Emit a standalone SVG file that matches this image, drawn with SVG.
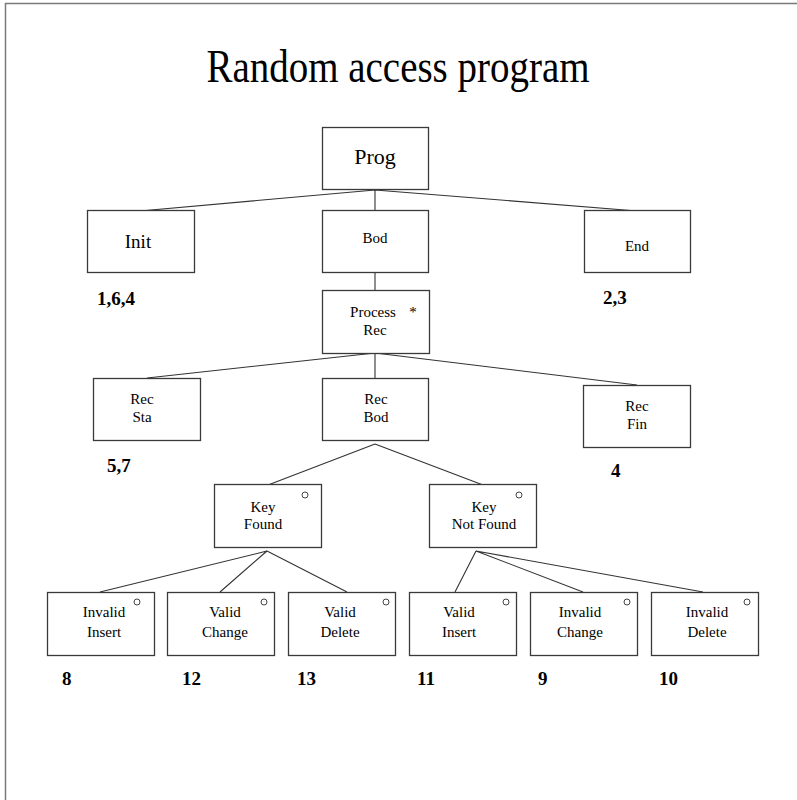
<svg xmlns="http://www.w3.org/2000/svg" width="797" height="800" viewBox="0 0 797 800">
  <style>
    .box { fill: #ffffff; stroke: #3a3a3a; stroke-width: 1.3; }
    .edge { stroke: #333333; stroke-width: 1.1; fill: none; }
    .lbl { font-family: "Liberation Serif", "Times New Roman", serif; fill: #000000; text-anchor: middle; }
    .num { font-family: "Liberation Serif", "Times New Roman", serif; font-weight: bold; font-size: 19px; fill: #000000; }
    .opt { fill: none; stroke: #444444; stroke-width: 1; }
  </style>
  <rect x="0" y="0" width="797" height="800" fill="#ffffff"/>
  <!-- frame: top and left rule -->
  <path d="M5.5 800 V3.5 H797" fill="none" stroke="#7a7a7a" stroke-width="1.5"/>

  <text class="lbl" x="398" y="82" font-size="46" textLength="383" lengthAdjust="spacingAndGlyphs">Random access program</text>

  <g id="connectors">
    <path class="edge" d="M375 190 L140 211 M375 190 L637 211 M375 190 V211"/>
    <path class="edge" d="M375 272 V290"/>
    <path class="edge" d="M375 353 L147 378 M375 353 V378 M375 353 L637 385"/>
    <path class="edge" d="M375 444 L268 485 M375 444 L483 485"/>
    <path class="edge" d="M267 551 L100 592 M267 551 L220 592 M267 551 L347 592"/>
    <path class="edge" d="M476 551 L455 592 M476 551 L583 592 M476 551 L703 592"/>
  </g>

  <g id="prog">
    <rect class="box" x="322.5" y="127.5" width="106" height="62"/>
    <text class="lbl" x="375" y="164" font-size="22">Prog</text>
  </g>
  <g id="init">
    <rect class="box" x="87.5" y="210.5" width="107" height="62"/>
    <text class="lbl" x="138" y="248" font-size="19">Init</text>
    <text class="num" x="97" y="305">1,6,4</text>
  </g>
  <g id="bod">
    <rect class="box" x="322.5" y="210.5" width="106" height="62"/>
    <text class="lbl" x="375" y="243" font-size="15">Bod</text>
  </g>
  <g id="end">
    <rect class="box" x="584.5" y="210.5" width="106" height="62"/>
    <text class="lbl" x="637" y="251" font-size="15">End</text>
    <text class="num" x="603" y="304">2,3</text>
  </g>
  <g id="process-rec">
    <rect class="box" x="322.5" y="290.5" width="107" height="63"/>
    <text class="lbl" x="373" y="317" font-size="15">Process</text>
    <text class="lbl" x="413" y="317" font-size="15">*</text>
    <text class="lbl" x="375" y="335" font-size="15">Rec</text>
  </g>
  <g id="rec-sta">
    <rect class="box" x="93.5" y="378.5" width="107" height="62"/>
    <text class="lbl" x="142" y="404" font-size="15">Rec</text>
    <text class="lbl" x="142" y="422" font-size="15">Sta</text>
    <text class="num" x="107" y="472">5,7</text>
  </g>
  <g id="rec-bod">
    <rect class="box" x="322.5" y="378.5" width="106" height="62"/>
    <text class="lbl" x="376" y="404" font-size="15">Rec</text>
    <text class="lbl" x="376" y="422" font-size="15">Bod</text>
  </g>
  <g id="rec-fin">
    <rect class="box" x="583.5" y="385.5" width="107" height="62"/>
    <text class="lbl" x="637" y="411" font-size="15">Rec</text>
    <text class="lbl" x="637" y="429" font-size="15">Fin</text>
    <text class="num" x="611" y="477">4</text>
  </g>
  <g id="key-found">
    <rect class="box" x="214.5" y="484.5" width="107" height="63"/>
    <circle class="opt" cx="305" cy="495" r="3"/>
    <text class="lbl" x="263" y="512" font-size="15">Key</text>
    <text class="lbl" x="263" y="529" font-size="15">Found</text>
  </g>
  <g id="key-not-found">
    <rect class="box" x="429.5" y="484.5" width="107" height="63"/>
    <circle class="opt" cx="519" cy="495" r="3"/>
    <text class="lbl" x="484" y="512" font-size="15">Key</text>
    <text class="lbl" x="484" y="529" font-size="15">Not Found</text>
  </g>
  <g id="invalid-insert">
    <rect class="box" x="47.5" y="592.5" width="107" height="63"/>
    <circle class="opt" cx="137" cy="602" r="3"/>
    <text class="lbl" x="104" y="617" font-size="15">Invalid</text>
    <text class="lbl" x="104" y="637" font-size="15">Insert</text>
    <text class="num" x="62" y="685">8</text>
  </g>
  <g id="valid-change">
    <rect class="box" x="167.5" y="592.5" width="107" height="63"/>
    <circle class="opt" cx="264" cy="602" r="3"/>
    <text class="lbl" x="225" y="617" font-size="15">Valid</text>
    <text class="lbl" x="225" y="637" font-size="15">Change</text>
    <text class="num" x="182" y="685">12</text>
  </g>
  <g id="valid-delete">
    <rect class="box" x="288.5" y="592.5" width="107" height="63"/>
    <circle class="opt" cx="386" cy="602" r="3"/>
    <text class="lbl" x="340" y="617" font-size="15">Valid</text>
    <text class="lbl" x="340" y="637" font-size="15">Delete</text>
    <text class="num" x="297" y="685">13</text>
  </g>
  <g id="valid-insert">
    <rect class="box" x="409.5" y="592.5" width="107" height="63"/>
    <circle class="opt" cx="506" cy="602" r="3"/>
    <text class="lbl" x="459" y="617" font-size="15">Valid</text>
    <text class="lbl" x="459" y="637" font-size="15">Insert</text>
    <text class="num" x="417" y="685">11</text>
  </g>
  <g id="invalid-change">
    <rect class="box" x="530.5" y="592.5" width="107" height="63"/>
    <circle class="opt" cx="627" cy="602" r="3"/>
    <text class="lbl" x="580" y="617" font-size="15">Invalid</text>
    <text class="lbl" x="580" y="637" font-size="15">Change</text>
    <text class="num" x="538" y="685">9</text>
  </g>
  <g id="invalid-delete">
    <rect class="box" x="651.5" y="592.5" width="107" height="63"/>
    <circle class="opt" cx="747" cy="602" r="3"/>
    <text class="lbl" x="707" y="617" font-size="15">Invalid</text>
    <text class="lbl" x="707" y="637" font-size="15">Delete</text>
    <text class="num" x="659" y="685">10</text>
  </g>
</svg>
